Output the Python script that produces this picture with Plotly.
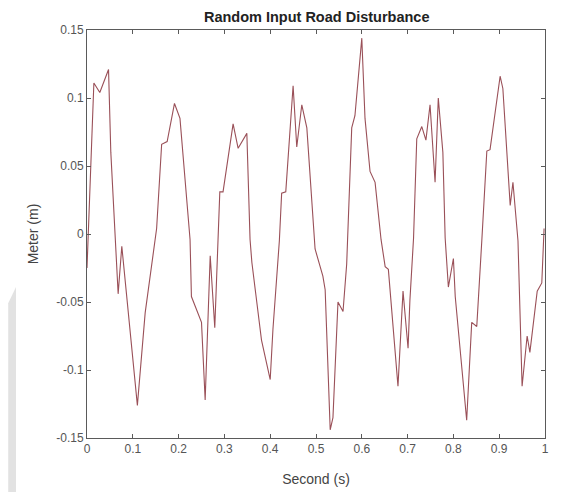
import plotly.graph_objects as go

# Time (s) and displacement (m)
t = [0.0, 0.015, 0.028, 0.047, 0.052, 0.068, 0.076, 0.11, 0.127, 0.152, 0.163, 0.175,
     0.191, 0.203, 0.225, 0.228, 0.25, 0.258, 0.269, 0.279, 0.286, 0.29, 0.297, 0.319,
     0.33, 0.349, 0.356, 0.36, 0.381, 0.4, 0.406, 0.42, 0.425, 0.434, 0.45, 0.458,
     0.469, 0.48, 0.498, 0.515, 0.52, 0.531, 0.537, 0.548, 0.559, 0.567, 0.578, 0.585,
     0.6, 0.607, 0.618, 0.629, 0.642, 0.651, 0.658, 0.679, 0.69, 0.701, 0.705, 0.713,
     0.72, 0.731, 0.74, 0.749, 0.76, 0.767, 0.777, 0.782, 0.789, 0.8, 0.804, 0.829,
     0.84, 0.851, 0.862, 0.873, 0.88, 0.902, 0.908, 0.919, 0.924, 0.93, 0.941, 0.95,
     0.961, 0.967, 0.983, 0.993, 0.998]
y = [-0.025, 0.111, 0.104, 0.121, 0.06, -0.044, -0.009, -0.126, -0.058, 0.004, 0.066, 0.068,
     0.096, 0.085, -0.004, -0.046, -0.065, -0.122, -0.016, -0.069, -0.005, 0.031, 0.031, 0.081,
     0.063, 0.074, -0.004, -0.021, -0.078, -0.107, -0.07, -0.005, 0.03, 0.031, 0.109, 0.064,
     0.095, 0.078, -0.011, -0.031, -0.041, -0.144, -0.135, -0.05, -0.057, -0.022, 0.078, 0.087,
     0.144, 0.085, 0.046, 0.038, -0.004, -0.024, -0.026, -0.112, -0.042, -0.084, -0.049, -0.003,
     0.07, 0.079, 0.069, 0.095, 0.038, 0.1, 0.06, -0.003, -0.039, -0.018, -0.046, -0.137,
     -0.065, -0.068, -0.005, 0.061, 0.062, 0.116, 0.107, 0.046, 0.021, 0.038, -0.005, -0.112,
     -0.075, -0.087, -0.042, -0.036, 0.004]

x_ticks = [0, 0.1, 0.2, 0.3, 0.4, 0.5, 0.6, 0.7, 0.8, 0.9, 1]
x_tick_text = ["0", "0.1", "0.2", "0.3", "0.4", "0.5", "0.6", "0.7", "0.8", "0.9", "1"]
y_ticks = [-0.15, -0.1, -0.05, 0, 0.05, 0.1, 0.15]
y_tick_text = ["-0.15", "-0.1", "-0.05", "0", "0.05", "0.1", "0.15"]

fig = go.Figure()
fig.add_trace(go.Scatter(x=t, y=y, mode="lines",
                         line=dict(color="#9a5058", width=1.1),
                         showlegend=False, hoverinfo="skip"))

axis_common = dict(showgrid=False, zeroline=False, showline=True, mirror="ticks",
                   linecolor="#5a5a5a", linewidth=1, ticks="inside", ticklen=4,
                   tickcolor="#5a5a5a", automargin=False,
                   tickfont=dict(family="Liberation Sans", size=12, color="#555555"))

fig.update_xaxes(range=[0, 1], tickvals=x_ticks, ticktext=x_tick_text,
                 title=dict(text="Second (s)", font=dict(family="Liberation Sans", size=14, color="#444444"),
                            standoff=18),
                 **axis_common)
fig.update_yaxes(range=[-0.15, 0.15], tickvals=y_ticks, ticktext=y_tick_text,
                 title=dict(text="Meter (m)", font=dict(family="Liberation Sans", size=14, color="#444444"),
                            standoff=14),
                 **axis_common)

# the page body adds an 8px offset, so margins are shifted to compensate
fig.update_layout(
    width=588, height=492,
    margin=dict(l=79, r=51, t=22, b=62, autoexpand=False),
    plot_bgcolor="white", paper_bgcolor="white",
    title=dict(text="<b>Random Input Road Disturbance</b>", x=0.525, xanchor="center",
               y=0.992, yanchor="top",
               font=dict(family="Liberation Sans", size=14.5, color="#222222")),
)

# faint grey watermark strip on the left edge
fig.add_shape(type="path", xref="paper", yref="paper",
              path="M -0.172 -0.15 L -0.172 0.33 L -0.155 0.37 L -0.155 -0.15 Z",
              fillcolor="#e2e2e2", line=dict(width=0), layer="below")

fig.write_html("out.html")
